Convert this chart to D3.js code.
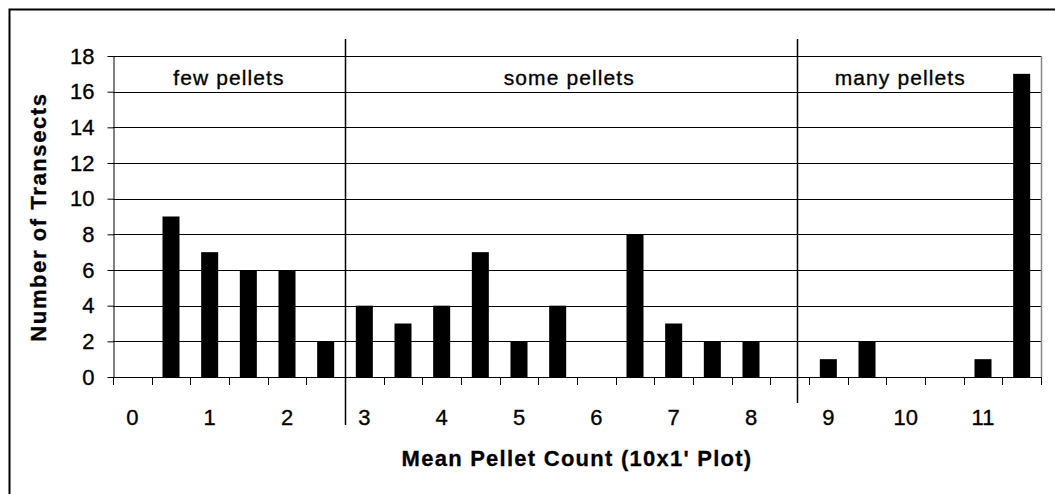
<!DOCTYPE html>
<html>
<head>
<meta charset="utf-8">
<script src="https://cdn.jsdelivr.net/npm/d3@7"></script>
<style>
  body { margin: 0; background: #fff; }
  svg { display: block; font-family: "Liberation Sans", Arial, sans-serif; }
  .tick-label { font-size: 22px; fill: #000; stroke: #000; stroke-width: 0.35px; }
  .section-label { font-size: 21px; letter-spacing: 1.1px; fill: #000; stroke: #000; stroke-width: 0.35px; }
  .axis-title { font-size: 22px; font-weight: bold; letter-spacing: 1.25px; fill: #000; stroke: #000; stroke-width: 0.3px; }
  .axis-title.y-title { letter-spacing: 1.6px; }
</style>
</head>
<body>
<div id="chart"></div>
<script>
// Mean pellet count classes (half-unit bins) and number of transects in each
const categories = ["0", "0.5", "1", "1.5", "2", "2.5", "3", "3.5", "4", "4.5", "5", "5.5",
  "6", "6.5", "7", "7.5", "8", "8.5", "9", "9.5", "10", "10.5", "11", "11.5"];
const counts = [0, 9, 7, 6, 6, 2, 4, 3, 4, 7, 2, 4, 0, 8, 3, 2, 2, 0, 1, 2, 0, 0, 1, 17];
const xTickLabels = ["0", "1", "2", "3", "4", "5", "6", "7", "8", "9", "10", "11"];
const yTicks = [0, 2, 4, 6, 8, 10, 12, 14, 16, 18];

// group dividers and group names, positioned in pellet-count units
const dividers = [2.75, 8.6];
const sections = [
  { name: "few pellets", at: 1.25 },
  { name: "some pellets", at: 5.65 },
  { name: "many pellets", at: 9.93 }
];

const width = 1055, height = 494;
const margin = { top: 56, right: 14, bottom: 117, left: 113 };
const innerW = width - margin.left - margin.right;
const innerH = height - margin.top - margin.bottom;

const svg = d3.select("#chart").append("svg")
  .attr("width", width)
  .attr("height", height);

// outer chart frame (only top and left edges fall inside the picture)
svg.append("rect")
  .attr("x", 9.5).attr("y", 9.5)
  .attr("width", width + 20).attr("height", height + 20)
  .attr("fill", "none").attr("stroke", "#000").attr("stroke-width", 2);

const plot = svg.append("g").attr("transform", `translate(${margin.left},${margin.top})`);

const x = d3.scaleBand().domain(categories).range([0, innerW])
  .paddingInner(0.56).paddingOuter(0.28);
// category-index scale for boundaries (tick marks, dividers)
const xi = d3.scaleLinear().domain([0, categories.length]).range([0, innerW]);
const valueToX = (v) => xi(v * 2 + 0.5);
const y = d3.scaleLinear().domain([0, 18]).range([innerH, 0]);

// horizontal gridlines
plot.append("g").selectAll("line").data(yTicks.filter((d) => d > 0)).join("line")
  .attr("x1", 0).attr("x2", innerW)
  .attr("y1", (d) => Math.round(y(d)) + 0.5).attr("y2", (d) => Math.round(y(d)) + 0.5)
  .attr("stroke", "#000").attr("stroke-width", 1);

// right plot border
plot.append("line")
  .attr("x1", innerW + 0.5).attr("x2", innerW + 0.5)
  .attr("y1", y(18)).attr("y2", y(0))
  .attr("stroke", "#888").attr("stroke-width", 1.5);

// bars
plot.append("g").selectAll("rect").data(categories.map((c, i) => ({ c, v: counts[i] })))
  .join("rect")
  .attr("x", (d) => x(d.c))
  .attr("width", x.bandwidth())
  .attr("y", (d) => y(d.v))
  .attr("height", (d) => y(0) - y(d.v))
  .attr("fill", "#000");

// y axis
const yAxis = d3.axisLeft(y).tickValues(yTicks).tickSize(6).tickPadding(13).tickSizeOuter(0);
const yG = plot.append("g").attr("transform", "translate(0.5,0)").call(yAxis);
yG.select(".domain").attr("stroke", "#000");
yG.selectAll(".tick line").attr("stroke", "#000");
yG.selectAll(".tick text").attr("class", "tick-label").attr("font-family", null).attr("font-size", null);

// x axis line with boundary tick marks
const xG = plot.append("g").attr("transform", `translate(0,${innerH})`);
xG.append("line").attr("x1", 0).attr("x2", innerW).attr("y1", 0.5).attr("y2", 0.5)
  .attr("stroke", "#000");
xG.selectAll("line.tickmark").data(d3.range(categories.length + 1)).join("line")
  .attr("class", "tickmark")
  .attr("x1", (d) => Math.round(xi(d)) + 0.5).attr("x2", (d) => Math.round(xi(d)) + 0.5)
  .attr("y1", 0).attr("y2", 8)
  .attr("stroke", "#000");
xG.selectAll("text").data(xTickLabels).join("text")
  .attr("class", "tick-label")
  .attr("x", (d) => x(d) + x.bandwidth() / 2)
  .attr("y", 48)
  .attr("text-anchor", "middle")
  .text((d) => d);

// group dividers
const dividerEnds = [425, 403];
plot.append("g").selectAll("line").data(dividers).join("line")
  .attr("x1", (d) => Math.round(valueToX(d)) + 0.5).attr("x2", (d) => Math.round(valueToX(d)) + 0.5)
  .attr("y1", 39 - margin.top)
  .attr("y2", (d, i) => dividerEnds[i] - margin.top)
  .attr("stroke", "#000").attr("stroke-width", 1.5);

// group names
plot.append("g").selectAll("text").data(sections).join("text")
  .attr("class", "section-label")
  .attr("x", (d) => valueToX(d.at))
  .attr("y", 85 - margin.top)
  .attr("text-anchor", "middle")
  .text((d) => d.name);

// axis titles
svg.append("text")
  .attr("class", "axis-title")
  .attr("x", 577).attr("y", 466)
  .attr("text-anchor", "middle")
  .text("Mean Pellet Count (10x1' Plot)");

svg.append("text")
  .attr("class", "axis-title y-title")
  .attr("transform", "translate(46,217) rotate(-90)")
  .attr("text-anchor", "middle")
  .text("Number of Transects");
</script>
</body>
</html>
